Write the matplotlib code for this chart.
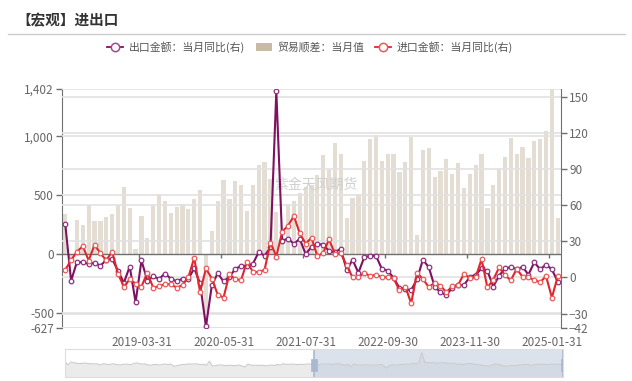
import matplotlib
matplotlib.use("Agg")
import matplotlib.pyplot as plt
from matplotlib.lines import Line2D
from matplotlib.patches import Patch, Rectangle
import numpy as np
import pandas as pd

plt.rcParams["font.family"] = ["Noto Sans CJK SC", "DejaVu Sans"]

# 2018-02 ~ 2025-02, month end
months = pd.date_range("2018-02-01", "2025-02-01", freq="MS") + pd.offsets.MonthEnd(0)
month_labels = [d.strftime("%Y-%m-%d") for d in months]
label_idx = [13, 27, 41, 55, 69, 83]

# 贸易顺差：当月值 (亿美元)
trade_balance = [337, -50, 287, 249, 416, 281, 279, 317, 340, 420, 571,
                 392, 41, 326, 138, 417, 510, 451, 348, 397, 428, 387, 468,
                 545, -627, 199, 453, 629, 464, 623, 589, 370, 584, 754, 782,
                 640, 361, 138, 429, 455, 515, 566, 583, 668, 845, 717, 945,
                 847, 305, 474, 511, 788, 979, 1013, 794, 847, 852, 698, 780,
                 991, 163, 882, 902, 658, 706, 806, 684, 777, 565, 684, 753,
                 850, 395, 586, 724, 826, 990, 847, 910, 817, 957, 974, 1048,
                 1402, 310]

# 出口金额：当月同比 (%)
export_yoy = [44.5, -2.7, 12.9, 12.6, 11.3, 12.2, 9.8, 14.5, 15.6, 5.4, -4.4,
              9.1, -20.7, 14.2, -2.7, 1.1, -1.3, 3.3, -1.0, -3.2, -0.9, -1.1, 7.6,
              -5.0, -40.6, -6.6, 3.5, -3.3, 0.5, 7.2, 9.5, 9.9, 11.4, 21.1, 18.1,
              25.0, 154.9, 30.6, 32.3, 27.9, 32.2, 19.3, 25.6, 28.1, 27.1, 22.0, 20.9,
              24.0, 6.0, 14.7, 3.9, 16.9, 17.9, 18.0, 7.1, 5.7, -0.3, -8.7, -9.9,
              -10.5, -1.3, 14.8, 8.5, -7.5, -12.4, -14.5, -8.8, -6.2, -6.4, 0.5, 2.3,
              7.5, 5.5, -7.5, 1.5, 7.6, 8.6, 7.0, 8.7, 2.4, 12.7, 6.7, 10.7,
              6.7, -3.6]

# 进口金额：当月同比 (%)
import_yoy = [6.3, 14.4, 21.5, 26.0, 14.1, 27.3, 20.0, 14.3, 21.4, 3.0, -7.6,
              -1.5, -5.2, -7.6, 4.0, -8.5, -7.3, -5.6, -5.6, -8.5, -6.4, 0.3, 16.3,
              -12.0, 7.5, -0.9, -14.2, -16.7, 2.7, -1.4, -2.1, 13.2, 4.7, 4.5, 6.5,
              29.0, 17.3, 38.1, 43.1, 51.1, 36.7, 28.1, 33.1, 17.6, 20.6, 31.7, 19.5,
              20.0, 10.0, 0.1, 0.0, 4.1, 1.0, 2.3, 0.3, 0.3, -0.7, -10.6, -7.5,
              -21.5, 4.0, -1.4, -7.9, -4.5, -6.8, -12.4, -7.3, -6.2, 3.0, -0.6, 0.2,
              15.2, -8.3, -1.9, 8.4, 1.8, -2.3, 7.2, 0.5, 0.3, -2.3, -3.9, 1.0,
              -16.7, 1.0]

# earlier export yoy shown in the zoom slider (2011-01 ~ 2018-01)
history_export = [37.7, 2.4, 35.8, 29.9, 19.4, 17.9, 20.4, 24.5, 17.1, 15.9, 13.8, 13.4,
                  -0.5, 18.4, 8.9, 4.9, 15.3, 11.3, 1.0, 2.7, 9.9, 11.6, 2.9, 14.1,
                  25.0, 21.8, 10.0, 14.7, 1.0, -3.1, 5.1, 7.2, -0.3, 5.6, 12.7, 4.3,
                  10.6, -18.1, -6.6, 0.9, 7.0, 7.2, 14.5, 9.4, 15.3, 11.6, 4.7, 9.7,
                  -3.3, 48.3, -15.0, -6.4, -2.5, 2.8, -8.3, -5.5, -3.7, -6.9, -6.8, -1.4,
                  -11.2, -25.4, 11.5, -1.8, -4.1, -4.8, -4.4, -2.8, -10.0, -7.3, 0.1, -6.1,
                  7.9, -1.3, 16.4, 8.0, 8.7, 11.3, 7.2, 5.5, 8.1, 6.9, 12.3, 10.9,
                  11.1]

W, H = 632, 381


def fx(p):
    return p / W


def fy(p):
    return 1 - p / H


axis_col = "#6f6f6f"
text_col = "#666666"
grid_col = "#e2e2e2"
purple = "#7e1160"
red = "#e0262b"
bar_col = "#e3ddd4"

fig = plt.figure(figsize=(W / 100, H / 100), dpi=100)

# title + separator
fig.text(fx(16), fy(20), "【宏观】进出口", fontsize=10.5, fontweight="bold",
         color="#333333", ha="left", va="center")
fig.add_artist(Line2D([fx(8), fx(625)], [fy(34), fy(34)], color="#cccccc", lw=1))

L, R, T, B = 62.3, 560.7, 89, 328
ax = fig.add_axes([fx(L), fy(B), fx(R) - fx(L), fy(T) - fy(B)])
x = np.arange(len(months))
ax.bar(x, trade_balance, width=0.72, color=bar_col, zorder=2)
ax.set_xlim(-0.5, len(months) - 0.5)
ax.set_ylim(-627, 1402)
left_ticks = [-627, -500, 0, 500, 1000, 1402]
ax.set_yticks(left_ticks)
ax.set_yticklabels([f"{v:,}" for v in left_ticks])
for v in left_ticks:
    if v != 0:
        ax.axhline(v, color=grid_col, lw=1.2, zorder=3)
ax.axhline(0, color=axis_col, lw=1, zorder=4)
tick_len = 4 * (1402 + 627) / (B - T)
ax.vlines(np.array(label_idx) - 0.5, -tick_len, 0, color=axis_col, lw=1, zorder=4)
ax.set_xticks(label_idx)
ax.set_xticklabels([month_labels[i] for i in label_idx])
ax.tick_params(axis="x", length=0, pad=5.5, labelsize=8.5, labelcolor=text_col)
ax.tick_params(axis="y", length=4, width=1, color=axis_col, labelsize=8.5,
               labelcolor=text_col, pad=2)
for s in ["top", "right", "bottom"]:
    ax.spines[s].set_visible(False)
ax.spines["left"].set_color(axis_col)

ax.text(fx(316.5), fy(185), "紫金天风期货", transform=fig.transFigure, fontsize=10,
        color="#d0d0d0", ha="center", va="center", zorder=2.5)

ax2 = ax.twinx()
ax2.set_ylim(-42, 156.7)
right_ticks = [-42, -30, 0, 30, 60, 90, 120, 150]
ax2.set_yticks(right_ticks)
for v in right_ticks:
    ax2.axhline(v, color=grid_col, lw=1.2, zorder=1)
ax2.plot(x, export_yoy, color=purple, lw=1.5, marker="o", ms=3.3, mfc="white",
         mec="#8f3080", mew=0.9, zorder=5)
ax2.plot(x, import_yoy, color=red, lw=1.5, marker="o", ms=3.3, mfc="white",
         mec="#ea5a5a", mew=0.9, zorder=6)
ax2.tick_params(axis="y", length=4, width=1, color=axis_col, labelsize=8.5,
                labelcolor=text_col, pad=2)
for s in ["top", "left", "bottom"]:
    ax2.spines[s].set_visible(False)
ax2.spines["right"].set_color(axis_col)

# legend
handles = [
    Line2D([], [], color=purple, lw=1.3, marker="o", ms=6, mfc="white", mec="#a04890", mew=1.1),
    Patch(facecolor="#c9baa6", edgecolor="none"),
    Line2D([], [], color=red, lw=1.3, marker="o", ms=6, mfc="white", mec="#ea5a5a", mew=1.1),
]
labels = ["出口金额：当月同比(右)", "贸易顺差：当月值", "进口金额：当月同比(右)"]
fig.legend(handles, labels, loc="center", bbox_to_anchor=(fx(310), fy(47)), ncol=3,
           frameon=False, fontsize=7.8, labelcolor="#555555", handlelength=1.5,
           handletextpad=0.5, columnspacing=1.0)

# zoom slider
S0, S1, ST, SB = 65, 563.3, 349, 377
ax3 = fig.add_axes([fx(S0), fy(SB), fx(S1) - fx(S0), fy(ST) - fy(SB)])
full = history_export + export_yoy
xs = np.arange(len(full))
ax3.set_xlim(0, len(full) - 1)
ax3.set_ylim(-150, 200)
ax3.fill_between(xs, full, -150, color="#ebebeb", lw=0)
ax3.plot(xs, full, color="#cccccc", lw=0.8)
sel0 = len(history_export) - 0.5
sel1 = len(full) - 1
ax3.axvspan(sel0, sel1, color="#c5d0e0", alpha=0.6, lw=0)
for hx in (sel0, sel1):
    ax3.axvline(hx, color="#a9b9cf", lw=1.2)
    ax3.add_patch(Rectangle((hx - 0.9, -80), 1.8, 150, facecolor="#a9b9cf",
                            edgecolor="#a9b9cf", lw=0.5, zorder=5))
ax3.set_xticks([])
ax3.set_yticks([])
for s in ax3.spines.values():
    s.set_color("#dddddd")

fig.savefig("out.png", dpi=100)
